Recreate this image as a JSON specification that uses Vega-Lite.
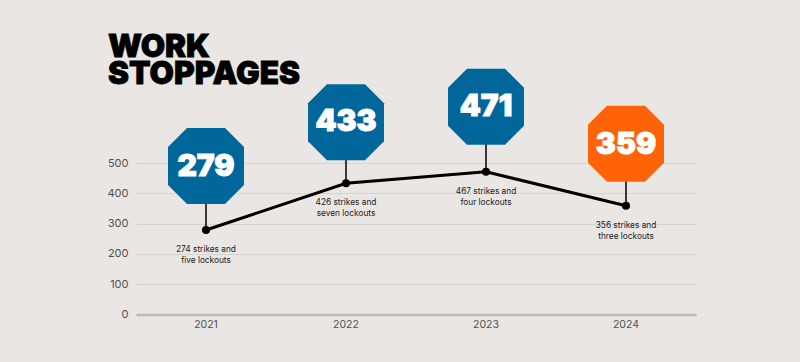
{
"$schema":"https://vega.github.io/schema/vega-lite/v6.json",
"width":560,"height":151.5,
"autosize":{"type":"none"},
"padding":{"left":136,"top":163,"right":104,"bottom":47.5},
"background":"#e9e6e3",
"data":{"values":[
{"year":"2021","total":279,"note":"274 strikes and\nfive lockouts","kind":"past","heading":"WORK\nSTOPPAGES"},
{"year":"2022","total":433,"note":"426 strikes and\nseven lockouts","kind":"past"},
{"year":"2023","total":471,"note":"467 strikes and\nfour lockouts","kind":"past"},
{"year":"2024","total":359,"note":"356 strikes and\nthree lockouts","kind":"latest"}
]},
"encoding":{
"x":{"field":"year","type":"ordinal","scale":{"type":"band","paddingInner":0,"paddingOuter":0},"axis":{"title":null,"labelAngle":0,"labelFont":"Inter","labelFontSize":10.5,"labelColor":"#505050","labelPadding":5,"ticks":false,"domainColor":"#bdbbb8","domainWidth":2.5,"grid":false}},
"y":{"field":"total","type":"quantitative","scale":{"domain":[0,500],"nice":false},"axis":{"title":null,"values":[0,100,200,300,400,500],"labelFont":"Inter","labelFontSize":11,"labelColor":"#505050","labelPadding":8,"ticks":false,"domain":false,"grid":true,"gridColor":"#d6d4d1","gridWidth":1}}
},
"layer":[
{"mark":{"type":"rule","color":"#000000","strokeWidth":1.5,"y2Offset":-45},"encoding":{"y2":{"field":"total"}}},
{"mark":{"type":"line","color":"#000000","strokeWidth":3}},
{"mark":{"type":"point","filled":true,"color":"#000000","size":65,"opacity":1}},
{"transform":[{"filter":"datum.year=='2021'"}],"layer":[
{"mark":{"type":"point","filled":true,"opacity":1,"yOffset":-64,"color":"#01679b","shape":"M-0.5,-1L0.5,-1L1,-0.5L1,0.5L0.5,1L-0.5,1L-1,0.5L-1,-0.5Z","size":5776}},
{"mark":{"type":"text","color":"#ffffff","stroke":"#ffffff","strokeWidth":1,"font":"Inter","fontWeight":900,"fontSize":30,"yOffset":-63,"baseline":"middle"},"encoding":{"text":{"field":"total"}}},
{"mark":{"type":"text","color":"#000000","stroke":"#000000","strokeWidth":0.8,"font":"Inter","fontWeight":900,"fontSize":31.5,"lineHeight":27,"lineBreak":"\n","align":"left","baseline":"alphabetic","xOffset":-98,"yOffset":-173},"encoding":{"text":{"field":"heading"}}}
]},
{"transform":[{"filter":"datum.year=='2022'"}],"layer":[
{"mark":{"type":"point","filled":true,"opacity":1,"yOffset":-61,"color":"#01679b","shape":"M-0.5,-1L0.5,-1L1,-0.5L1,0.5L0.5,1L-0.5,1L-1,0.5L-1,-0.5Z","size":5776}},
{"mark":{"type":"text","color":"#ffffff","stroke":"#ffffff","strokeWidth":1,"font":"Inter","fontWeight":900,"fontSize":30,"yOffset":-61,"baseline":"middle"},"encoding":{"text":{"field":"total"}}}
]},
{"transform":[{"filter":"datum.year=='2023'"}],"layer":[
{"mark":{"type":"point","filled":true,"opacity":1,"yOffset":-65,"color":"#01679b","shape":"M-0.5,-1L0.5,-1L1,-0.5L1,0.5L0.5,1L-0.5,1L-1,0.5L-1,-0.5Z","size":5776}},
{"mark":{"type":"text","color":"#ffffff","stroke":"#ffffff","strokeWidth":1,"font":"Inter","fontWeight":900,"fontSize":30,"yOffset":-65,"baseline":"middle"},"encoding":{"text":{"field":"total"}}}
]},
{"transform":[{"filter":"datum.year=='2024'"}],"layer":[
{"mark":{"type":"point","filled":true,"opacity":1,"yOffset":-62,"color":"#ff6308","shape":"M-0.5,-1L0.5,-1L1,-0.5L1,0.5L0.5,1L-0.5,1L-1,0.5L-1,-0.5Z","size":5776}},
{"mark":{"type":"text","color":"#ffffff","stroke":"#ffffff","strokeWidth":1,"font":"Inter","fontWeight":900,"fontSize":30,"yOffset":-61,"baseline":"middle"},"encoding":{"text":{"field":"total"}}}
]},
{"mark":{"type":"text","color":"#222222","font":"Inter","fontSize":8.3,"lineHeight":11,"lineBreak":"\n","baseline":"top","yOffset":15},"encoding":{"text":{"field":"note"}}}
],
"config":{"view":{"stroke":null}}
}
